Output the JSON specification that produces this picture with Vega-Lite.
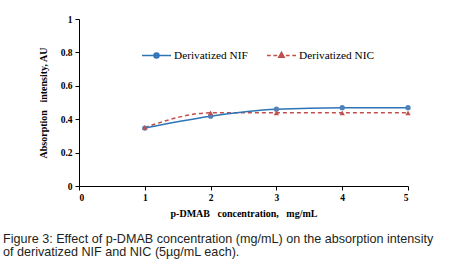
{
  "$schema": "https://vega.github.io/schema/vega-lite/v6.json",
  "autosize": "none",
  "width": 329,
  "height": 167,
  "padding": {"left": 79, "top": 19, "right": 47, "bottom": 78},
  "background": "white",
  "config": {
    "view": {"stroke": null},
    "axis": {
      "grid": false,
      "domainColor": "black",
      "tickColor": "black",
      "labelFont": "Liberation Serif",
      "labelFontWeight": "bold",
      "labelFontSize": 9.5,
      "labelColor": "black",
      "titleFont": "Liberation Serif",
      "titleFontWeight": "bold",
      "titleFontSize": 10,
      "titleColor": "black",
      "tickSize": 4
    }
  },
  "title": {
    "text": ["Figure 3: Effect of p-DMAB concentration (mg/mL) on the absorption intensity", "of derivatized NIF and NIC (5µg/mL each)."],
    "orient": "bottom",
    "anchor": "start",
    "frame": "group",
    "dx": -76,
    "offset": 14,
    "font": "Liberation Sans",
    "fontSize": 12.6,
    "fontWeight": "normal",
    "color": "#231f20",
    "lineHeight": 13.5
  },
  "data": {
    "values": [
      {"series": "Derivatized NIF", "conc": 1, "absorb": 0.347},
      {"series": "Derivatized NIF", "conc": 2, "absorb": 0.418},
      {"series": "Derivatized NIF", "conc": 3, "absorb": 0.46},
      {"series": "Derivatized NIF", "conc": 4, "absorb": 0.469},
      {"series": "Derivatized NIF", "conc": 5, "absorb": 0.469},
      {"series": "Derivatized NIC", "conc": 1, "absorb": 0.35},
      {"series": "Derivatized NIC", "conc": 2, "absorb": 0.438},
      {"series": "Derivatized NIC", "conc": 3, "absorb": 0.438},
      {"series": "Derivatized NIC", "conc": 4, "absorb": 0.438},
      {"series": "Derivatized NIC", "conc": 5, "absorb": 0.438}
    ]
  },
  "encoding": {
    "x": {
      "field": "conc", "type": "quantitative",
      "scale": {"domain": [0, 5], "nice": false},
      "axis": {"values": [0, 1, 2, 3, 4, 5], "title": "p-DMAB \u00a0\u00a0concentration, \u00a0\u00a0mg/mL", "titlePadding": 7, "labelPadding": 2}
    },
    "y": {
      "field": "absorb", "type": "quantitative",
      "scale": {"domain": [0, 1], "nice": false},
      "axis": {"values": [0, 0.2, 0.4, 0.6, 0.8, 1], "format": ".1~f", "title": "Absorption \u00a0\u00a0intensity, AU", "titlePadding": 12, "labelPadding": 3}
    }
  },
  "layer": [
    {
      "transform": [{"filter": "datum.series == 'Derivatized NIC'"}],
      "mark": {"type": "line", "stroke": "#C0504D", "strokeWidth": 1.5, "strokeDash": [4, 3], "interpolate": "monotone"}
    },
    {
      "transform": [{"filter": "datum.series == 'Derivatized NIF'"}],
      "mark": {"type": "line", "stroke": "#2E75B6", "strokeWidth": 1.5, "interpolate": "monotone"}
    },
    {
      "transform": [{"filter": "datum.series == 'Derivatized NIF'"}],
      "mark": {"type": "point", "shape": "circle", "filled": true, "fill": "#4F81BD", "opacity": 1, "size": 28}
    },
    {
      "transform": [{"filter": "datum.series == 'Derivatized NIC'"}],
      "mark": {"type": "point", "shape": "triangle-up", "filled": true, "fill": "#C0504D", "opacity": 1, "size": 28}
    },
    {
      "transform": [{"filter": "datum.conc > 100"}],
      "mark": {"type": "point", "filled": true, "opacity": 1},
      "encoding": {
        "shape": {
          "field": "series", "type": "nominal",
          "scale": {
            "domain": ["Derivatized NIF", "Derivatized NIC"],
            "range": [
              "M-1,0H1M-0.17,0A0.17,0.17 0 1,0 0.17,0A0.17,0.17 0 1,0 -0.17,0Z",
              "M-1,0H-0.74M-0.56,0H-0.3M0.3,0H0.56M0.74,0H1M0,-0.22L0.19,0.12H-0.19Z"
            ]
          },
          "legend": {
            "title": null,
            "orient": "none",
            "legendX": 62,
            "legendY": 21,
            "direction": "horizontal",
            "columns": 2,
            "columnPadding": 16,
            "symbolSize": 841,
            "symbolStrokeWidth": 1.5,
            "labelFont": "Liberation Serif",
            "labelFontSize": 11.3,
            "labelColor": "black",
            "labelOffset": 2,
            "padding": 0
          }
        },
        "fill": {
          "field": "series", "type": "nominal",
          "scale": {"domain": ["Derivatized NIF", "Derivatized NIC"], "range": ["#4F81BD", "#C0504D"]}
        },
        "stroke": {
          "field": "series", "type": "nominal",
          "scale": {"domain": ["Derivatized NIF", "Derivatized NIC"], "range": ["#2E75B6", "#C0504D"]}
        }
      }
    }
  ]
}
